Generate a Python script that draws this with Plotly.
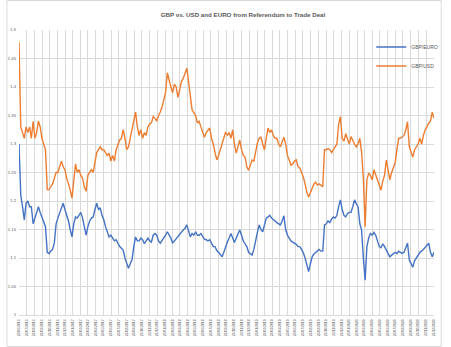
import pandas as pd
import plotly.graph_objects as go

# ---- data (weekly readings, 23/06/2016 .. 24/12/2020) ----
start_date = "2016-06-23"
n_weeks = 236

gbp_usd = [
    1.479, 1.33, 1.32, 1.31, 1.33, 1.32, 1.33, 1.31, 1.34, 1.31,
    1.32, 1.34, 1.33, 1.31, 1.30, 1.29, 1.22, 1.22, 1.225, 1.23,
    1.24, 1.25, 1.25, 1.26, 1.27, 1.26, 1.255, 1.24, 1.23, 1.22,
    1.205, 1.24, 1.265, 1.25, 1.255, 1.245, 1.24, 1.225, 1.217, 1.245,
    1.25, 1.255, 1.25, 1.27, 1.285, 1.29, 1.295, 1.29, 1.29, 1.285,
    1.28, 1.284, 1.27, 1.28, 1.27, 1.29, 1.30, 1.307, 1.31, 1.325,
    1.31, 1.29, 1.295, 1.31, 1.325, 1.34, 1.356, 1.33, 1.315, 1.325,
    1.31, 1.32, 1.315, 1.33, 1.335, 1.337, 1.348, 1.345, 1.34, 1.35,
    1.356, 1.365, 1.38, 1.39, 1.425, 1.41, 1.40, 1.39, 1.405, 1.40,
    1.382, 1.395, 1.41, 1.415, 1.425, 1.433, 1.41, 1.38, 1.36, 1.355,
    1.35, 1.337, 1.34, 1.33, 1.32, 1.312, 1.32, 1.325, 1.328, 1.31,
    1.30, 1.285, 1.272, 1.28, 1.29, 1.30, 1.31, 1.321, 1.315, 1.32,
    1.31, 1.325, 1.30, 1.284, 1.295, 1.307, 1.29, 1.28, 1.277, 1.26,
    1.254, 1.265, 1.272, 1.27, 1.285, 1.302, 1.31, 1.312, 1.30, 1.29,
    1.31, 1.328, 1.32, 1.325, 1.315, 1.31, 1.31, 1.30, 1.295, 1.305,
    1.312, 1.30, 1.28, 1.272, 1.263, 1.265, 1.27, 1.272, 1.26, 1.258,
    1.25, 1.242, 1.23, 1.215, 1.207, 1.215, 1.225, 1.23, 1.233, 1.228,
    1.23, 1.228, 1.225, 1.29, 1.29, 1.292, 1.29, 1.285, 1.29, 1.295,
    1.30, 1.335, 1.348, 1.31, 1.305, 1.318, 1.31, 1.30, 1.313, 1.305,
    1.30, 1.295, 1.30, 1.31, 1.285, 1.24, 1.155, 1.237, 1.249, 1.245,
    1.237, 1.255, 1.245, 1.235, 1.225, 1.219, 1.235, 1.245, 1.272, 1.25,
    1.237, 1.25, 1.26, 1.267, 1.29, 1.31, 1.31, 1.313, 1.315, 1.325,
    1.339, 1.295, 1.285, 1.277, 1.29, 1.295, 1.30, 1.31, 1.30, 1.315,
    1.325, 1.33, 1.337, 1.34, 1.356, 1.345,
]

gbp_eur = [
    1.30, 1.21, 1.19, 1.167, 1.196, 1.20, 1.19, 1.19, 1.16, 1.17,
    1.18, 1.19, 1.18, 1.172, 1.165, 1.155, 1.11, 1.108, 1.112, 1.115,
    1.126, 1.16, 1.17, 1.179, 1.19, 1.196, 1.185, 1.175, 1.165, 1.15,
    1.137, 1.16, 1.172, 1.17, 1.175, 1.18, 1.17, 1.155, 1.14, 1.155,
    1.165, 1.17, 1.172, 1.185, 1.196, 1.185, 1.188, 1.175, 1.167, 1.155,
    1.145, 1.137, 1.14, 1.135, 1.13, 1.132, 1.125, 1.12, 1.117, 1.114,
    1.10, 1.09, 1.082, 1.09, 1.097, 1.12, 1.137, 1.13, 1.13, 1.135,
    1.132, 1.125, 1.13, 1.135, 1.13, 1.128, 1.14, 1.143, 1.14, 1.13,
    1.126, 1.13, 1.135, 1.14, 1.146, 1.14, 1.135, 1.126, 1.13, 1.133,
    1.138, 1.143, 1.146, 1.149, 1.152, 1.158, 1.148, 1.137, 1.143, 1.14,
    1.146, 1.14, 1.14, 1.143, 1.138, 1.133, 1.132, 1.13, 1.132, 1.125,
    1.12, 1.12, 1.113, 1.11, 1.105, 1.102, 1.11, 1.12, 1.128, 1.135,
    1.143, 1.135, 1.127, 1.135, 1.143, 1.149, 1.14, 1.13, 1.125, 1.12,
    1.11, 1.108, 1.105, 1.115, 1.132, 1.145, 1.158, 1.15, 1.146, 1.16,
    1.17, 1.172, 1.175, 1.17, 1.168, 1.165, 1.162, 1.16, 1.158, 1.165,
    1.174, 1.15, 1.14, 1.135, 1.13, 1.128, 1.126, 1.124, 1.12, 1.12,
    1.115, 1.109, 1.10, 1.088, 1.076, 1.09, 1.102, 1.107, 1.11, 1.113,
    1.115, 1.112, 1.112, 1.158, 1.16, 1.165, 1.162, 1.168, 1.172, 1.17,
    1.175, 1.19, 1.202, 1.185, 1.175, 1.172, 1.178, 1.18, 1.18, 1.19,
    1.202, 1.195, 1.19, 1.16, 1.149, 1.10, 1.061, 1.12, 1.135, 1.143,
    1.14, 1.145, 1.14, 1.13, 1.12, 1.118, 1.125, 1.12, 1.114, 1.108,
    1.102, 1.105, 1.107, 1.11, 1.108, 1.112, 1.11, 1.108, 1.11, 1.118,
    1.126, 1.097, 1.09, 1.084, 1.095, 1.10, 1.107, 1.11, 1.112, 1.115,
    1.118, 1.122, 1.126, 1.11, 1.102, 1.11,
]

y_ticks = [1.0, 1.05, 1.1, 1.15, 1.2, 1.25, 1.3, 1.35, 1.4, 1.45, 1.5]
y_tick_labels = ["1", "1.05", "1.1", "1.15", "1.2", "1.25", "1.3", "1.35", "1.4", "1.45", "1.5"]

title_text = "GBP vs. USD and EURO from Referendum to Trade Deal"
series_names = ["GBP/EURO", "GBP/USD"]

dates = pd.date_range(start_date, periods=n_weeks, freq="7D")

# ---- layout constants ----
W, H = 451, 347
ML, MR, MT, MB = 13, 8, 30, 32
PW, PH = W - ML - MR, H - MT - MB
GRID = "#d9d9d9"
TXT = "#595959"
BLUE = "#4472C4"
ORANGE = "#ED7D31"

fig = go.Figure()
fig.add_trace(go.Scatter(x=dates, y=gbp_eur, mode="lines", name=series_names[0],
                         line=dict(color=BLUE, width=1.4), legend="legend", showlegend=True))
fig.add_trace(go.Scatter(x=dates, y=gbp_usd, mode="lines", name=series_names[1],
                         line=dict(color=ORANGE, width=1.4), legend="legend2", showlegend=True))


def px_x(p):
    return (p - ML) / PW


def px_y(p):
    return (H - MB - p) / PH


legend_style = dict(
    font=dict(family="Liberation Sans, Arial, sans-serif", size=5, color=TXT),
    bgcolor="rgba(0,0,0,0)", borderwidth=0,
    xref="paper", yref="paper", xanchor="left", yanchor="middle",
    itemwidth=30, tracegroupgap=0, visible=True,
)

fig.update_layout(
    width=W, height=H,
    showlegend=True,
    margin=dict(l=ML, r=MR, t=MT, b=MB, pad=0),
    paper_bgcolor="white", plot_bgcolor="white",
    title=dict(text="<b>" + title_text + "</b>", xref="container", yref="container",
               x=243 / W, xanchor="center", y=1 - 15 / H, yanchor="middle",
               font=dict(family="Liberation Sans, Arial, sans-serif", size=6.2, color=TXT)),
    legend=dict(x=px_x(378), y=px_y(47), **legend_style),
    legend2=dict(x=px_x(378), y=px_y(66), **legend_style),
    xaxis=dict(
        type="date",
        range=[dates[0], dates[-1]],
        tick0=start_date, dtick="M1", tickformat="%d/%m/%Y",
        tickangle=-90,
        tickfont=dict(family="Liberation Sans, Arial, sans-serif", size=3.4, color=TXT),
        showgrid=True, gridcolor=GRID, gridwidth=1,
        showline=True, linecolor=GRID, linewidth=1,
        ticks="", zeroline=False, ticklabelstandoff=2,
    ),
    yaxis=dict(
        range=[1.0, 1.5],
        tickvals=y_ticks, ticktext=y_tick_labels,
        tickfont=dict(family="Liberation Sans, Arial, sans-serif", size=4.2, color=TXT),
        showgrid=True, gridcolor=GRID, gridwidth=1,
        showline=False, zeroline=False, ticks="", ticklabelstandoff=2,
    ),
    shapes=[dict(type="rect", xref="paper", yref="paper",
                 x0=px_x(0.5), x1=px_x(W - 0.5), y0=px_y(H - 0.5), y1=px_y(0.5),
                 line=dict(color=GRID, width=1), fillcolor="rgba(0,0,0,0)", layer="below")],
)

fig.write_html("out.html")
